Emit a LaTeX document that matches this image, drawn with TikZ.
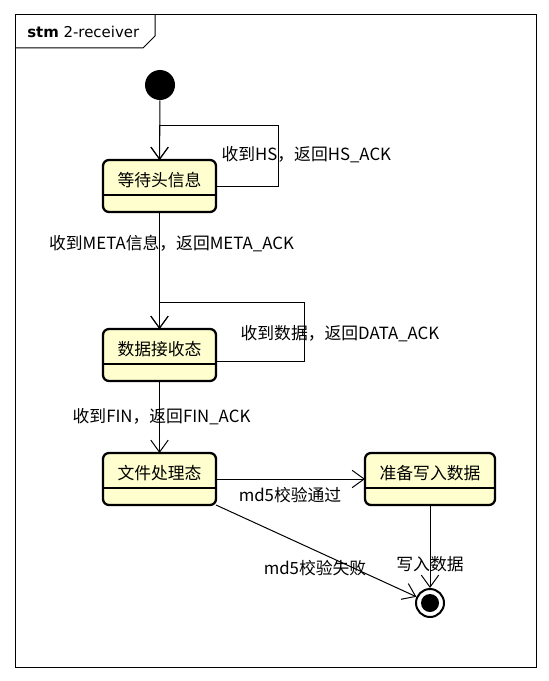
\documentclass[tikz,border=0pt]{standalone}
\usepackage{fontspec}
\setmainfont{Noto Sans CJK SC}
\newfontfamily\tabfont{DejaVu Sans}
\usepackage{xcolor}
\usetikzlibrary{arrows.meta, positioning}
\definecolor{statefill}{HTML}{FEFECE}

\begin{document}
\begin{tikzpicture}[x=0.75pt, y=-0.75pt,
  font=\fontsize{12.6}{15}\selectfont,
  state/.style={draw, line width=1.7pt, rounded corners=4.5pt, fill=statefill,
    minimum width=84.75pt, minimum height=39pt, text height=8pt, text depth=8pt,
    inner sep=0pt, outer sep=0pt},
  trans/.style={line width=0.75pt, -{Straight Barb[length=9pt, width=13pt, line width=0.75pt]}},
  lbl/.style={inner sep=1pt}]
\useasboundingbox (0,0) rectangle (549,681);

% frame with tab
\draw[line width=0.75pt] (15,15) rectangle (536,667);
\draw[line width=0.75pt] (15,48) -- (143,48) -- (155,36) -- (155,15);
\node[anchor=west, inner sep=0pt] (tab) at (27,32) {\tabfont\fontsize{11.2}{13}\selectfont\textbf{stm} 2-receiver};

% initial and final
\node[circle, fill=black, minimum size=22.5pt, inner sep=0pt] (init) at (160,85) {};
\node[circle, draw, line width=1.5pt, fill=white, minimum size=21pt, inner sep=0pt] (fin) at (430,603) {};
\fill (fin.center) circle (6.75pt);

% states
\node[state] (s1) at (159.5,186) {等待头信息};
\node[state, below=87.75pt of s1] (s2) {数据接收态};
\node[state, below=54pt of s2] (s3) {文件处理态};
\node[state, minimum width=97.5pt, right=111.75pt of s3] (s4) {准备写入数据};
\foreach \s in {s1,s2,s3,s4} {
    \draw[line width=1.2pt] ([shift={(0,-17)}]\s.south west) -- ([shift={(0,-17)}]\s.south east);
}

% transitions
\draw[trans] (init) -- (s1);
\draw[trans] (s1.east) -- ++(62,0) |- ([shift={(0,-34)}]s1.north) -- (s1.north);
\node[lbl, anchor=west] (l1) at ([shift={(4,-31)}]s1.east) {收到HS，返回HS\_ACK};

\draw[trans] (s1) -- (s2);
\node[lbl] (l2) at ([shift={(12,32)}]s1.south) {收到META信息，返回META\_ACK};

\draw[trans] ([shift={(0,6)}]s2.east) -- ++(88,0) |- ([shift={(0,-27)}]s2.north) -- (s2.north);
\node[lbl, anchor=west] (l3) at ([shift={(23,-21.5)}]s2.east) {收到数据，返回DATA\_ACK};

\draw[trans] (s2) -- (s3);
\node[lbl] (l4) at ([shift={(2,36)}]s2.south) {收到FIN，返回FIN\_ACK};

\draw[trans] (s3) -- (s4);
\node[lbl] (l5) at ([shift={(74,16)}]s3.east) {md5校验通过};

\draw[trans] (s4) -- (fin);
\node[lbl] (l6) at ([shift={(0,59)}]s4.south) {写入数据};

\draw[trans] (s3.south east) -- (fin);
\node[lbl] (l7) at ([shift={(99,63)}]s3.south east) {md5校验失败};
\end{tikzpicture}
\end{document}
